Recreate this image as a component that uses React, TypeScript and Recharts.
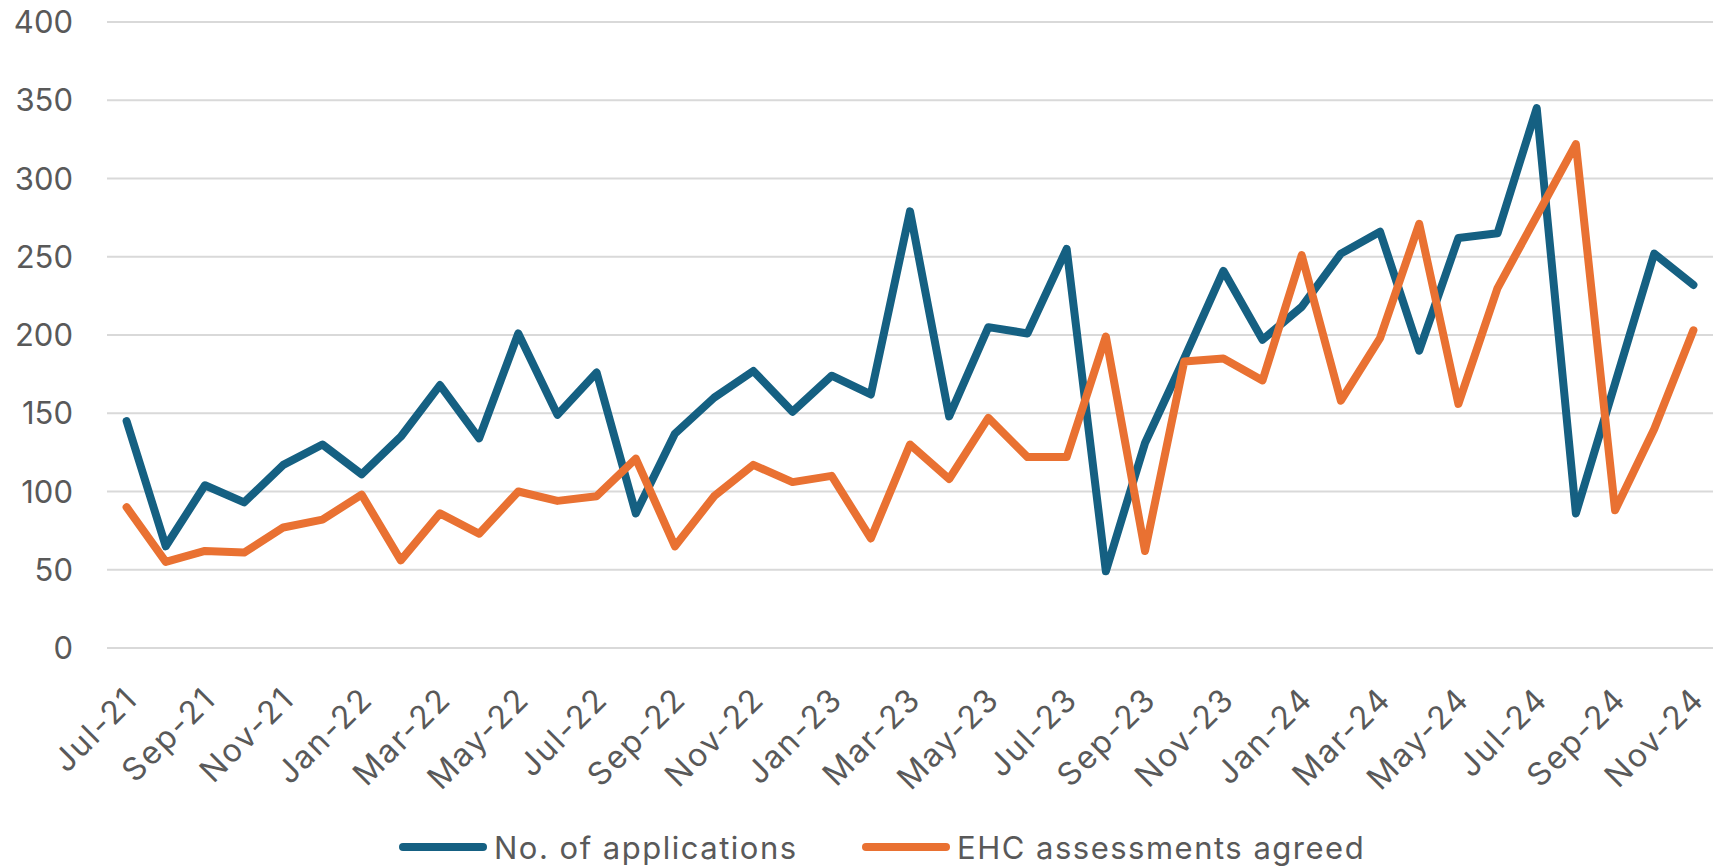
import { LineChart, Line, XAxis, YAxis, CartesianGrid, Legend } from "recharts";

const months = [
  "Jul-21", "Aug-21", "Sep-21", "Oct-21", "Nov-21", "Dec-21",
  "Jan-22", "Feb-22", "Mar-22", "Apr-22", "May-22", "Jun-22",
  "Jul-22", "Aug-22", "Sep-22", "Oct-22", "Nov-22", "Dec-22",
  "Jan-23", "Feb-23", "Mar-23", "Apr-23", "May-23", "Jun-23",
  "Jul-23", "Aug-23", "Sep-23", "Oct-23", "Nov-23", "Dec-23",
  "Jan-24", "Feb-24", "Mar-24", "Apr-24", "May-24", "Jun-24",
  "Jul-24", "Aug-24", "Sep-24", "Oct-24", "Nov-24",
];

const applications = [
  145, 65, 104, 93, 117, 130, 111, 135, 168, 134, 201, 149, 176, 86, 137, 160,
  177, 151, 174, 162, 279, 148, 205, 201, 255, 49, 131, 185, 241, 197, 218, 252,
  266, 190, 262, 265, 345, 86, 169, 252, 232,
];

const agreed = [
  90, 55, 62, 61, 77, 82, 98, 56, 86, 73, 100, 94, 97, 121, 65, 97,
  117, 106, 110, 70, 130, 108, 147, 122, 122, 199, 62, 183, 185, 171, 251, 158,
  198, 271, 156, 230, 276, 322, 88, 140, 203,
];

const yTicks = [0, 50, 100, 150, 200, 250, 300, 350, 400];

const BLUE = "#156082";
const ORANGE = "#E97132";
const TEXT = "#595959";
const FONT = "Inter, 'Liberation Sans', sans-serif";

const data = months.map((m, i) => ({
  month: m,
  applications: applications[i],
  agreed: agreed[i],
}));

// rotated month label, end of text sits just right of the point
function MonthTick(props: any) {
  const { x, y, payload } = props;
  return (
    <g transform={`translate(${x + 13},${y + 45})`}>
      <text
        textAnchor="end"
        transform="rotate(-45)"
        fill={TEXT}
        fontSize={32}
        fontFamily={FONT}
        letterSpacing={2}
      >
        {payload.value}
      </text>
    </g>
  );
}

const legendItems = [
  { label: "No. of applications", color: BLUE, left: 399 },
  { label: "EHC assessments agreed", color: ORANGE, left: 862 },
];

function ChartLegend() {
  return (
    <div style={{ position: "relative", height: 40, width: 1716 }}>
      {legendItems.map((it) => (
        <div
          key={it.label}
          style={{
            position: "absolute",
            left: it.left,
            top: 0,
            height: 40,
            display: "flex",
            alignItems: "center",
          }}
        >
          <div
            style={{
              width: 88,
              height: 8,
              borderRadius: 4,
              background: it.color,
              marginRight: 7,
            }}
          />
          <span
            style={{
              fontFamily: FONT,
              fontSize: 31,
              color: TEXT,
              letterSpacing: 1.5,
              whiteSpace: "nowrap",
            }}
          >
            {it.label}
          </span>
        </div>
      ))}
    </div>
  );
}

export default function App() {
  return (
    <div style={{ position: "absolute", left: 0, top: 0, background: "#fff" }}>
      <LineChart
        width={1716}
        height={867}
        data={data}
        margin={{ top: 22, right: 3, left: 0, bottom: 0 }}
      >
        <CartesianGrid vertical={false} stroke="#d9d9d9" strokeWidth={2} />
        <XAxis
          dataKey="month"
          interval={1}
          axisLine={false}
          tickLine={false}
          height={179}
          padding={{ left: 19.6, right: 19.6 }}
          tick={<MonthTick />}
        />
        <YAxis
          domain={[0, 400]}
          ticks={yTicks}
          width={107}
          axisLine={false}
          tickLine={false}
          tickMargin={28}
          tick={{ fill: TEXT, fontSize: 31, fontFamily: FONT }}
        />
        <Legend
          verticalAlign="bottom"
          content={() => <ChartLegend />}
          wrapperStyle={{ left: 0, bottom: 0, width: 1716, height: 40 }}
        />
        <Line
          dataKey="applications"
          name="No. of applications"
          stroke={BLUE}
          strokeWidth={8}
          strokeLinejoin="round"
          strokeLinecap="round"
          dot={false}
          isAnimationActive={false}
        />
        <Line
          dataKey="agreed"
          name="EHC assessments agreed"
          stroke={ORANGE}
          strokeWidth={8}
          strokeLinejoin="round"
          strokeLinecap="round"
          dot={false}
          isAnimationActive={false}
        />
      </LineChart>
    </div>
  );
}
